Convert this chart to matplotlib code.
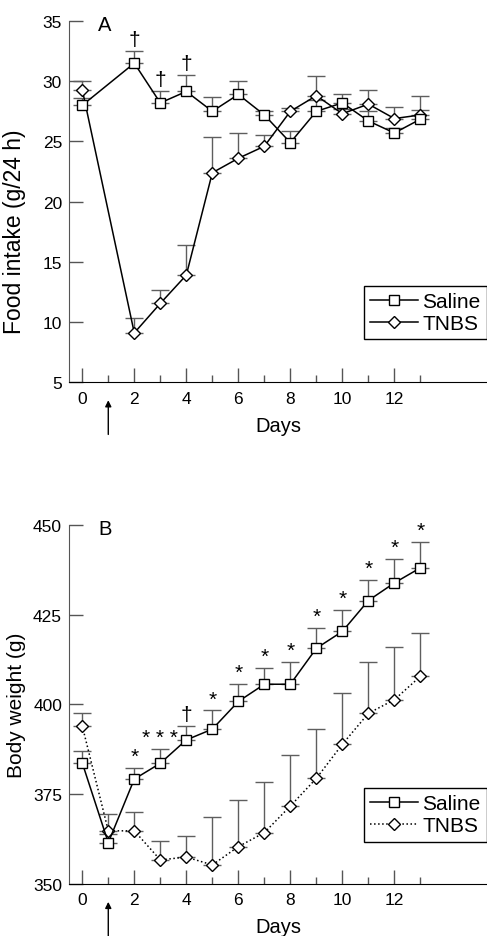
import matplotlib
matplotlib.use('Agg')
import matplotlib.pyplot as plt

plt.rcParams['font.family'] = ['Liberation Sans', 'DejaVu Sans']

# Painel A: consumo de alimento (g/24 h)
dias_a = [0, 2, 3, 4, 5, 6, 7, 8, 9, 10, 11, 12, 13]
salina_a = [28.0, 31.5, 28.2, 29.15, 27.5, 28.9, 27.2, 24.9, 27.5, 28.2, 26.7, 25.7, 26.85]
salina_a_err = [0.6, 1.0, 1.0, 1.4, 1.2, 1.1, 0.3, 1.0, 0.9, 0.7, 0.8, 0.4, 1.9]
tnbs_a = [29.3, 9.1, 11.55, 13.9, 22.4, 23.6, 24.6, 27.5, 28.8, 27.3, 28.1, 26.9, 27.2]
tnbs_a_err = [0.7, 1.2, 1.15, 2.5, 3.0, 2.1, 0.9, 0.3, 1.6, 0.4, 1.2, 1.0, 0.45]
marcas_a = {2: '†', 3: '†', 4: '†'}

# Painel B: peso corporal (g)
dias_b = [0, 1, 2, 3, 4, 5, 6, 7, 8, 9, 10, 11, 12, 13]
salina_b = [383.7, 361.5, 379.2, 383.6, 390.1, 393.1, 400.8, 405.6, 405.6, 415.6, 420.3, 428.9, 433.8, 438.0]
salina_b_err = [3.3, 2.5, 3.2, 3.9, 3.9, 5.2, 4.8, 4.6, 6.2, 5.7, 6.0, 5.8, 6.6, 7.1]
tnbs_b = [394.0, 364.8, 364.8, 356.7, 357.5, 355.3, 360.4, 364.3, 371.7, 379.4, 388.9, 397.5, 401.3, 407.8]
tnbs_b_err = [3.5, 4.6, 5.3, 5.3, 5.9, 13.4, 13.1, 14.2, 14.2, 13.7, 14.2, 14.2, 14.7, 12.0]
marcas_b = {2: '*', 3: '* * *', 4: '†', 5: '*', 6: '*', 7: '*', 8: '*', 9: '*',
            10: '*', 11: '*', 12: '*', 13: '*'}

W, H = 487, 937
fig = plt.figure(figsize=(W / 100, H / 100), dpi=100)

cinza = '#555555'
cor_err = '#5e5e5e'


def eixo(px_top, px_bottom):
    left = 69 / W
    width = (W - 69) / W
    return fig.add_axes([left, 1 - px_bottom / H, width, (px_bottom - px_top) / H])


def desenhar(ax, dias, sal, sal_err, tn, tn_err, estilo_tnbs):
    # barras de erro só para cima
    ax.errorbar(dias, tn, yerr=[[0] * len(tn), tn_err], fmt='none', ecolor=cor_err,
                elinewidth=1, capsize=6.5, capthick=1, zorder=2)
    ax.errorbar(dias, sal, yerr=[[0] * len(sal), sal_err], fmt='none', ecolor=cor_err,
                elinewidth=1, capsize=6.5, capthick=1, zorder=2)
    ax.plot(dias, tn, linestyle=estilo_tnbs, color='black', lw=1.1, marker='D', ms=6.5,
            mfc='white', mec='black', mew=1, label='TNBS', zorder=3)
    ax.plot(dias, sal, linestyle='-', color='black', lw=1.1, marker='s', ms=6.5,
            mfc='white', mec='black', mew=1, label='Saline', zorder=4)


def formatar(ax, ylim, yticks, ylabel, ylabel_fs, ylabel_y, letra, leg_top):
    ax.set_xlim(-0.51, 15.56)
    ax.set_ylim(*ylim)
    ax.set_yticks(yticks)
    ax.set_xticks([0, 2, 4, 6, 8, 10, 12])
    ax.set_xticks([1, 3, 5, 7, 9, 11, 13], minor=True)
    for s in ['top', 'right']:
        ax.spines[s].set_visible(False)
    ax.spines['left'].set_color(cinza)
    ax.spines['bottom'].set_color('black')
    ax.tick_params(axis='both', which='major', direction='in', length=10, width=1,
                   color=cinza, labelsize=12.5)
    ax.tick_params(axis='x', which='minor', direction='in', length=5, width=1, color=cinza)
    ax.tick_params(axis='x', which='major', pad=6)
    ax.tick_params(axis='y', which='major', pad=5)
    ax.set_xlabel('Days', fontsize=14.5)
    ax.xaxis.set_label_coords(0.5, -0.093)
    ax.set_ylabel(ylabel, fontsize=ylabel_fs)
    ax.yaxis.set_label_coords(-0.102, ylabel_y)
    ax.text(0.086, 0.99, letra, transform=ax.transAxes, fontsize=14.5, ha='center', va='center')
    # seta indicando o dia da administração
    ax.annotate('', xy=(1, -0.042), xytext=(1, -0.152), xycoords=('data', 'axes fraction'),
                textcoords=('data', 'axes fraction'),
                arrowprops=dict(arrowstyle='-|>', color='black', lw=1, mutation_scale=9),
                annotation_clip=False)
    h, l = ax.get_legend_handles_labels()
    leg = ax.legend([h[1], h[0]], [l[1], l[0]], loc='upper left',
                    bbox_to_anchor=(364 / W, 1 - leg_top / H), bbox_transform=fig.transFigure,
                    borderaxespad=0, fontsize=15, handlelength=2.3, handletextpad=0.2,
                    labelspacing=0.15, borderpad=0.3, fancybox=False, framealpha=1,
                    edgecolor='black')
    leg.get_frame().set_linewidth(1)


def anotar(ax, dias, vals, errs, marcas, fs):
    for d, m in marcas.items():
        i = dias.index(d)
        ax.annotate(m, xy=(d, vals[i] + errs[i]), xytext=(0, 1.5), textcoords='offset points',
                    ha='center', va='bottom', fontsize=fs)


# Painel A
ax_a = eixo(22, 383.3)
desenhar(ax_a, dias_a, salina_a, salina_a_err, tnbs_a, tnbs_a_err, '-')
formatar(ax_a, (5, 35), [5, 10, 15, 20, 25, 30, 35], 'Food intake (g/24 h)', 16.5, 0.42, 'A', 286.7)
anotar(ax_a, dias_a, salina_a, salina_a_err, marcas_a, 15)

# Painel B
ax_b = eixo(525.7, 885)
desenhar(ax_b, dias_b, salina_b, salina_b_err, tnbs_b, tnbs_b_err, ':')
formatar(ax_b, (350, 450), [350, 375, 400, 425, 450], 'Body weight (g)', 15, 0.5, 'B', 789)
anotar(ax_b, dias_b, salina_b, salina_b_err, marcas_b, 15)

plt.savefig('out.png', dpi=100)
